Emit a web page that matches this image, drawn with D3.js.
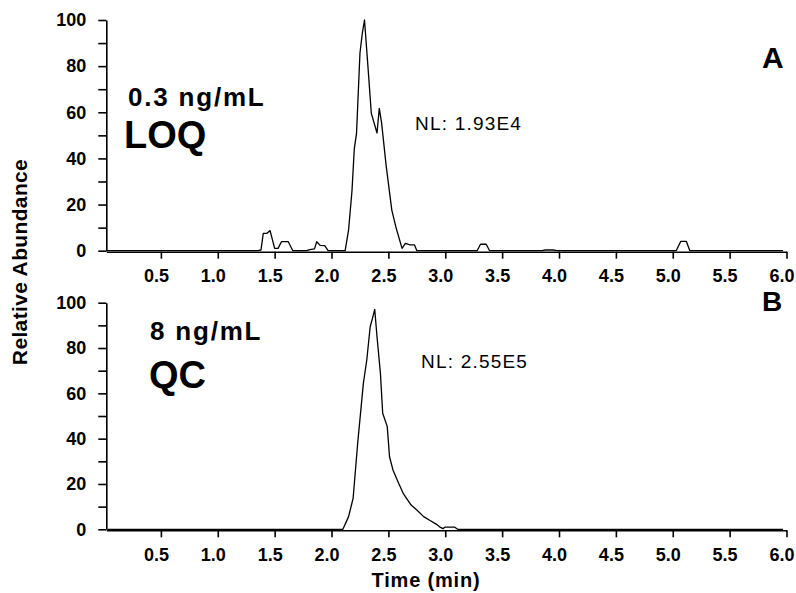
<!DOCTYPE html>
<html>
<head>
<meta charset="utf-8">
<script src="https://cdn.jsdelivr.net/npm/d3@7"></script>
<style>
  body { margin: 0; background: #fff; }
  svg text { font-family: "Liberation Sans", Arial, Helvetica, sans-serif; fill: #000; }
  .axis path, .axis line { stroke: #000; stroke-width: 1.6; }
  .axis text { font-size: 18px; font-weight: bold; }
</style>
</head>
<body>
<div id="chart"></div>
<script>
// retention time (min) and relative abundance
const timesA = [0.02, 1.35, 1.38, 1.40, 1.43, 1.46, 1.50, 1.53, 1.56, 1.62, 1.66, 1.78, 1.81, 1.85, 1.87, 1.90, 1.94, 1.97,
  2.12, 2.15, 2.18, 2.20, 2.22, 2.25, 2.27, 2.29, 2.32, 2.35, 2.40, 2.42, 2.44, 2.48, 2.53, 2.57, 2.62, 2.65, 2.69, 2.73, 2.75,
  3.28, 3.31, 3.36, 3.39, 3.85, 3.88, 3.95, 3.98, 5.03, 5.07, 5.12, 5.15, 5.97];
const valuesA = [0, 0, 0.3, 7.5, 7.5, 8.7, 1, 1, 3.9, 3.9, 0, 0, 0.5, 0.8, 3.9, 2.3, 2.2, 0,
  0, 9, 26, 44, 51, 85.6, 94, 100, 80, 59.5, 51, 61.7, 55.5, 37, 17.6, 9.5, 1, 3.2, 2.5, 2.5, 0,
  0, 2.8, 2.8, 0, 0, 0.3, 0.3, 0, 0, 4, 4, 0, 0];

const timesB = [0.03, 2.10, 2.15, 2.19, 2.23, 2.28, 2.31, 2.34, 2.36, 2.38, 2.40, 2.43, 2.45, 2.49, 2.51, 2.54, 2.59,
  2.63, 2.67, 2.70, 2.75, 2.81, 2.87, 2.92, 2.95, 2.98, 3.00, 3.08, 3.11, 5.97];
const valuesB = [0, 0, 5.6, 13.7, 38, 64.4, 74.7, 89.4, 93.1, 97, 85, 68.8, 51.2, 45.3, 32, 26.2, 20.3,
  15.9, 12.9, 10.7, 8.5, 5.6, 3.8, 2.3, 1.1, 0.3, 1, 1, 0, 0];

const xTicks = [0.5, 1.0, 1.5, 2.0, 2.5, 3.0, 3.5, 4.0, 4.5, 5.0, 5.5, 6.0];
const yTicks = [0, 10, 20, 30, 40, 50, 60, 70, 80, 90, 100];

const panels = [
  {times: timesA, values: valuesA, top: 20, bottom: 250.7, letter: "A", letterY: 68,
   conc: "0.3 ng/mL", concY: 106, tag: "LOQ", tagY: 148, nl: "NL: 1.93E4", nlX: 415, nlY: 130},
  {times: timesB, values: valuesB, top: 302.7, bottom: 529.3, letter: "B", letterY: 311,
   conc: "8 ng/mL", concY: 340, tag: "QC", tagY: 388, nl: "NL: 2.55E5", nlX: 421, nlY: 368}
];

const width = 796, height = 593;
const svg = d3.select("#chart").append("svg")
  .attr("width", width)
  .attr("height", height);

const x = d3.scaleLinear().domain([0.02, 6.0]).range([106.3, 786.5]);

panels.forEach(p => {
  const y = d3.scaleLinear().domain([0, 100]).range([p.bottom, p.top]);
  const pts = p.times.map((t, i) => ({t: t, v: p.values[i]}));

  // x axis sits just under the zero line
  const xa = svg.append("g")
    .attr("class", "axis")
    .attr("transform", `translate(0,${p.bottom + 1})`)
    .call(d3.axisBottom(x).tickValues(xTicks).tickFormat(d3.format(".1f"))
      .tickSize(7).tickSizeOuter(0).tickPadding(10.5));
  xa.selectAll("text").attr("dx", -5);

  svg.append("g")
    .attr("class", "axis")
    .attr("transform", `translate(${x(0.02)},0)`)
    .call(d3.axisLeft(y).tickValues(yTicks).tickFormat(d => d % 20 === 0 ? d : "")
      .tickSize(8).tickSizeOuter(0).tickPadding(12));

  svg.append("path")
    .datum(pts)
    .attr("fill", "none")
    .attr("stroke", "#000")
    .attr("stroke-width", 1.3)
    .attr("stroke-linejoin", "round")
    .attr("d", d3.line().x(d => x(d.t)).y(d => y(d.v)));

  svg.append("text")
    .attr("x", 762)
    .attr("y", p.letterY)
    .style("font-size", p.letter === "A" ? "30px" : "28px")
    .style("font-weight", "bold")
    .text(p.letter);

  svg.append("text")
    .attr("x", p.letter === "A" ? 128 : 150)
    .attr("y", p.concY)
    .style("font-size", "26px")
    .style("font-weight", "bold")
    .style("letter-spacing", "1.8px")
    .text(p.conc);

  svg.append("text")
    .attr("x", p.letter === "A" ? 124 : 149)
    .attr("y", p.tagY)
    .style("font-size", "38px")
    .style("font-weight", "bold")
    .text(p.tag);

  svg.append("text")
    .attr("x", p.nlX)
    .attr("y", p.nlY)
    .style("font-size", "19px")
    .style("letter-spacing", "1.2px")
    .text(p.nl);
});

svg.append("text")
  .attr("transform", "translate(27,262) rotate(-90)")
  .attr("text-anchor", "middle")
  .style("font-size", "21px")
  .style("font-weight", "bold")
  .style("letter-spacing", "0.35px")
  .text("Relative Abundance");

svg.append("text")
  .attr("x", 426)
  .attr("y", 587)
  .attr("text-anchor", "middle")
  .style("font-size", "20px")
  .style("font-weight", "bold")
  .style("letter-spacing", "0.8px")
  .text("Time (min)");
</script>
</body>
</html>
